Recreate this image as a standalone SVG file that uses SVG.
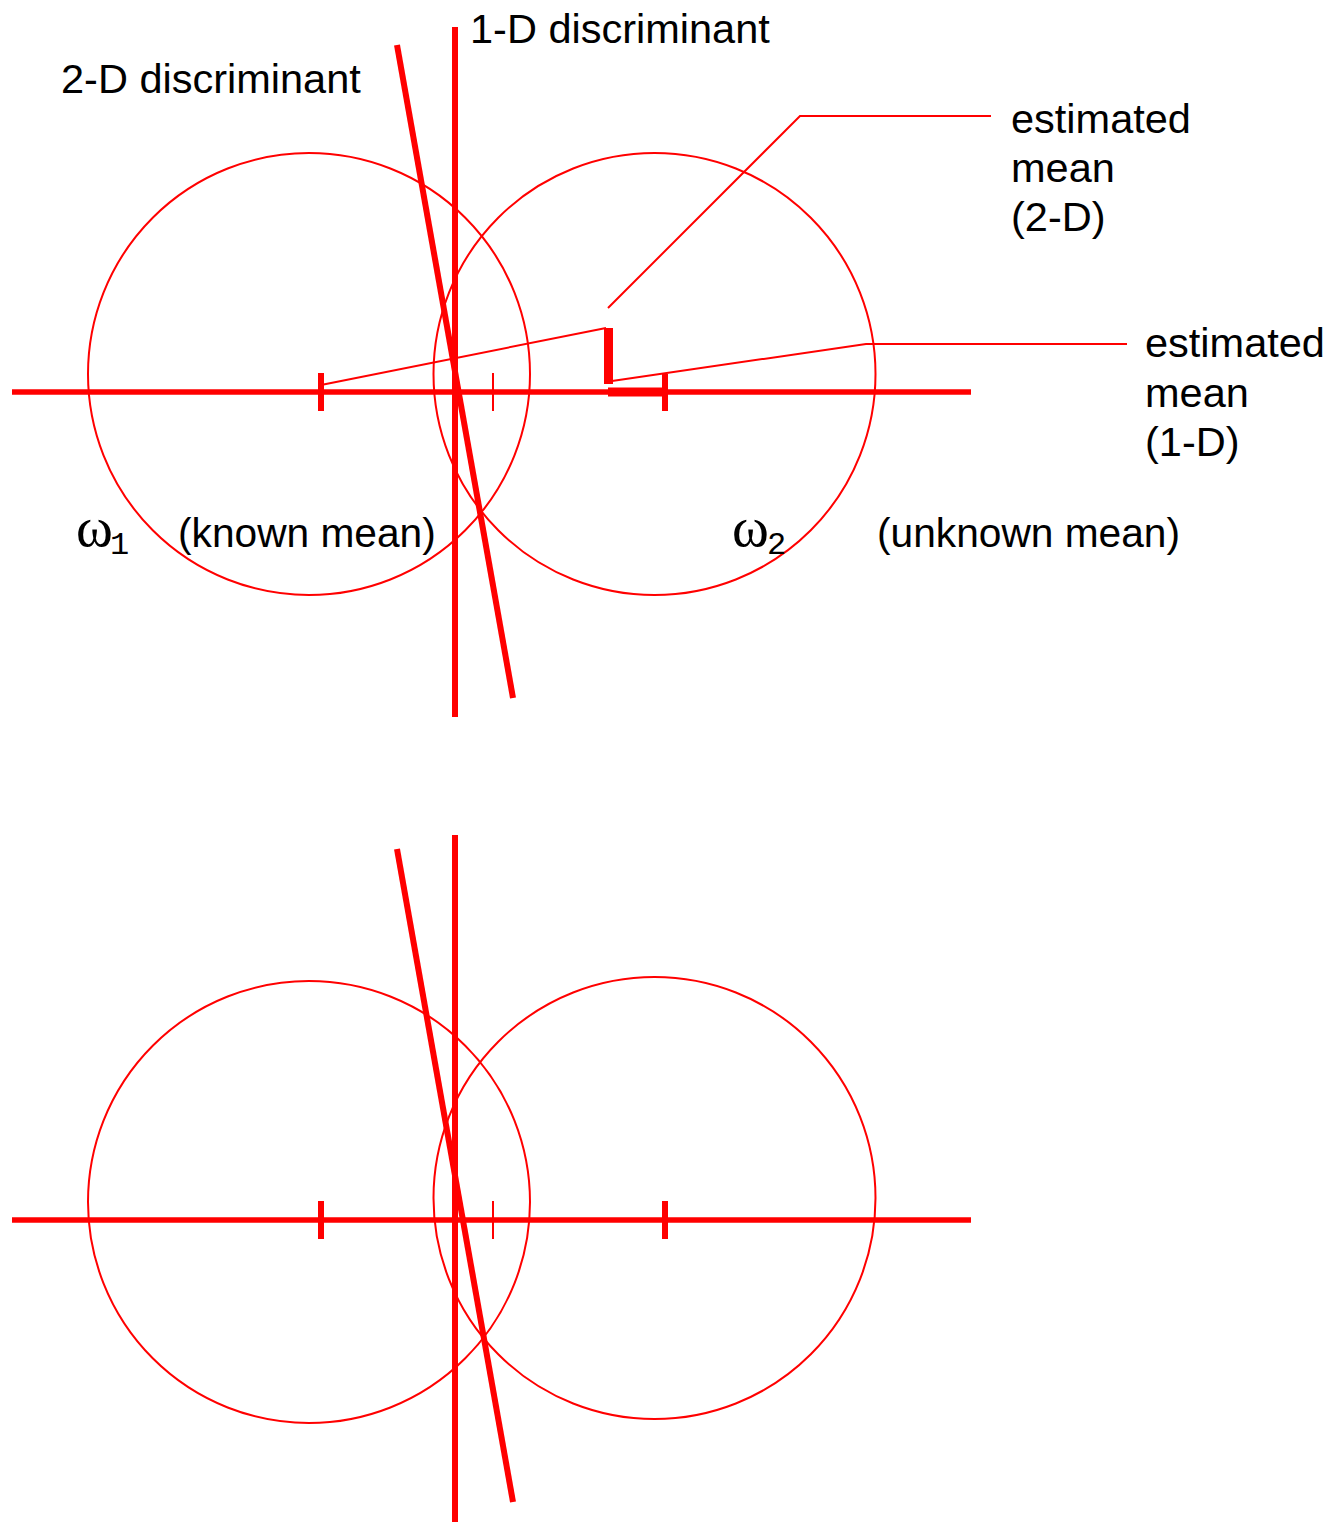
<svg xmlns="http://www.w3.org/2000/svg" width="1343" height="1522" viewBox="0 0 1343 1522">
<style>
.lbl{font-family:"Liberation Sans",Arial,sans-serif;font-size:41.5px;fill:#000}
.lbl2{font-family:"Liberation Sans",Arial,sans-serif;font-size:40.7px;fill:#000}
.om{font-family:"Liberation Serif","Times New Roman",serif;font-size:56px;fill:#000}
.sub{font-family:"Liberation Mono","Courier New",monospace;font-size:32px;fill:#000}
.circ{fill:none;stroke:#ff0000;stroke-width:2}
.axis{stroke:#ff0000;stroke-width:5.5}
.disc{stroke:#ff0000;stroke-width:6}
.tick{stroke:#ff0000;stroke-width:6}
.thin{stroke:#ff0000;stroke-width:2;fill:none}
.thick{stroke:#ff0000;stroke-width:9}
</style>
<rect width="1343" height="1522" fill="#fff"/>
<g id="top-panel">
  <g id="top-circle-left"><circle class="circ" cx="309" cy="374" r="221"/></g>
  <g id="top-circle-right"><circle class="circ" cx="654.5" cy="374" r="221"/></g>
  <g id="top-axis">
    <line class="axis" x1="12" y1="392" x2="971" y2="392"/>
    <line class="tick" x1="321" y1="373" x2="321" y2="411"/>
    <line class="thin" x1="493" y1="373" x2="493" y2="411"/>
    <line class="tick" x1="665" y1="374" x2="665" y2="411"/>
  </g>
  <g id="top-1d-disc"><line class="disc" x1="455" y1="27" x2="455" y2="717"/></g>
  <g id="top-2d-disc"><line class="disc" x1="397" y1="45" x2="513" y2="698"/></g>
  <g id="connectors">
    <line class="thin" x1="321" y1="385" x2="606" y2="328"/>
    <line class="thick" x1="608.5" y1="328" x2="608.5" y2="384"/>
    <line class="thick" x1="608" y1="392" x2="665" y2="392"/>
    <polyline class="thin" points="612,381 866,344 1127,344"/>
    <polyline class="thin" points="608,308 800,116 991,116"/>
  </g>
  <g id="labels">
    <text class="lbl" x="470" y="43">1-D discriminant</text>
    <text class="lbl" x="61" y="93">2-D discriminant</text>
    <text class="lbl" x="1011" y="133">estimated</text>
    <text class="lbl" x="1011" y="182">mean</text>
    <text class="lbl" x="1011" y="231">(2-D)</text>
    <text class="lbl" x="1145" y="357">estimated</text>
    <text class="lbl" x="1145" y="407">mean</text>
    <text class="lbl" x="1145" y="456">(1-D)</text>
    <text class="lbl2" x="178" y="547">(known mean)</text>
    <text class="lbl2" x="877" y="547">(unknown mean)</text>
    <text class="om" x="76" y="546">ω</text><text class="sub" x="110" y="554">1</text>
    <text class="om" x="732" y="546">ω</text><text class="sub" x="767" y="554">2</text>
  </g>
</g>
<g id="bottom-panel">
  <g id="bot-circle-left"><circle class="circ" cx="309" cy="1202" r="221"/></g>
  <g id="bot-circle-right"><circle class="circ" cx="654.5" cy="1198" r="221"/></g>
  <g id="bot-axis">
    <line class="axis" x1="12" y1="1220" x2="971" y2="1220"/>
    <line class="tick" x1="321" y1="1201" x2="321" y2="1239"/>
    <line class="thin" x1="493" y1="1201" x2="493" y2="1239"/>
    <line class="tick" x1="665" y1="1201" x2="665" y2="1239"/>
  </g>
  <g id="bot-1d-disc"><line class="disc" x1="455" y1="835" x2="455" y2="1522"/></g>
  <g id="bot-2d-disc"><line class="disc" x1="397" y1="849" x2="513" y2="1502"/></g>
</g>
</svg>
